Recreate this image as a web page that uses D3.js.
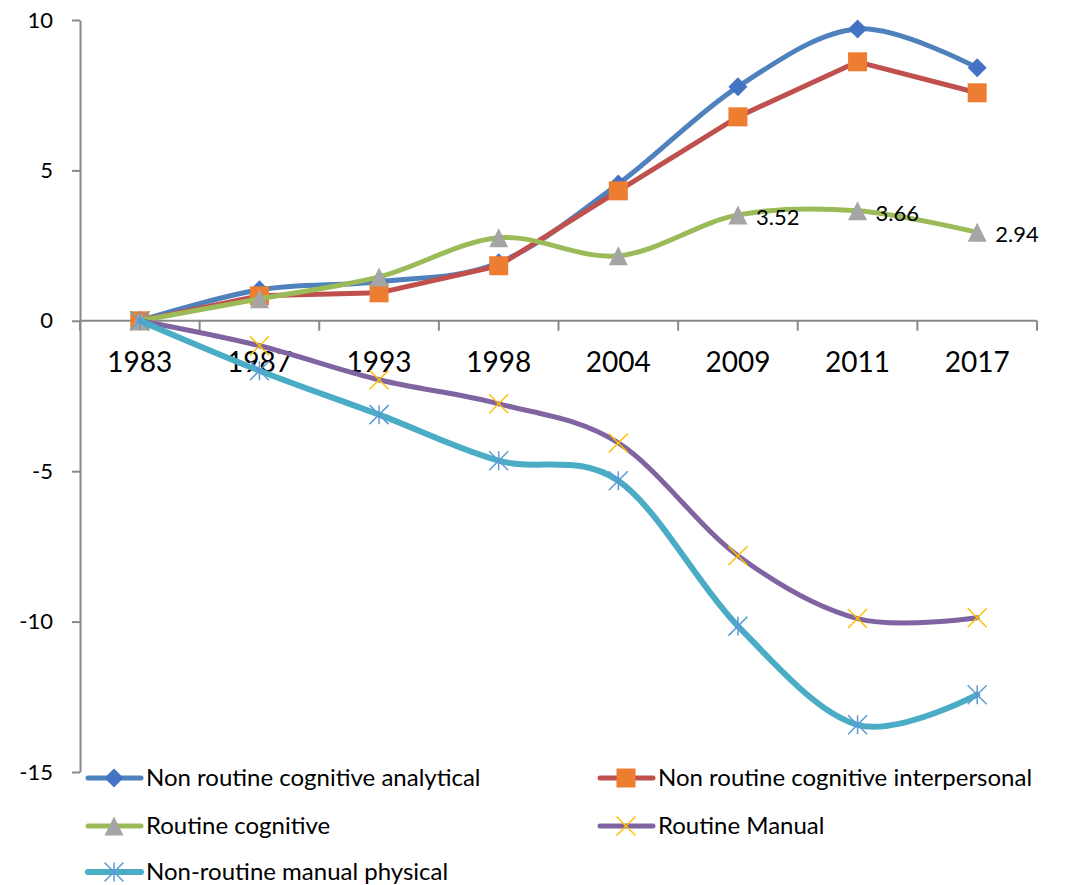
<!DOCTYPE html>
<html>
<head>
<meta charset="utf-8">
<script src="https://d3js.org/d3.v7.min.js"></script>
<style>
  body { margin: 0; background: #fff; }
  text { font-family: Lato, "Open Sans", sans-serif; fill: #000; }
</style>
</head>
<body>
<script>
// chart values
const years = ["1983", "1987", "1993", "1998", "2004", "2009", "2011", "2017"];
const seriesNames = ["Non routine cognitive analytical", "Non routine cognitive interpersonal",
  "Routine cognitive", "Routine Manual", "Non-routine manual physical"];
const analytical    = [0, 1.03, 1.30, 1.93, 4.55, 7.78, 9.70, 8.41];
const interpersonal = [0, 0.83, 0.93, 1.83, 4.32, 6.78, 8.61, 7.58];
const routineCog    = [0, 0.73, 1.46, 2.76, 2.16, 3.52, 3.66, 2.94];
const routineManual = [0, -0.83, -1.96, -2.76, -4.06, -7.81, -9.90, -9.87];
const manualPhys    = [0, -1.66, -3.12, -4.65, -5.32, -10.15, -13.43, -12.43];
const yTicks = [-15, -10, -5, 0, 5, 10];
const labelled = ["2009", "2011", "2017"]; // data labels on routine cognitive

const values = [analytical, interpersonal, routineCog, routineManual, manualPhys];
const lineColor = ["#4f81bd", "#c0504d", "#9bbb59", "#8064a2", "#4bacc6"];
const markColor = ["#4472c4", "#ed7d31", "#a5a5a5", "#ffc000", "#5b9bd5"];
const markType = ["diamond", "square", "triangle", "x", "star"];
const smooth = [true, false, true, true, true];
const lineW = [5, 5, 5, 5, 6];

const width = 1066, height = 885;
const svg = d3.select("body").append("svg")
  .attr("width", width).attr("height", height);

const x = d3.scaleBand().domain(years).range([80, 1037]).paddingInner(0).paddingOuter(0);
const cx = d => x(d) + x.bandwidth() / 2;
const y = d3.scaleLinear().domain([-15, 10]).range([772, 20]);

const axisColor = "#888";

// y axis
const yAxis = svg.append("g")
  .attr("transform", "translate(80,0)")
  .call(d3.axisLeft(y).tickValues(yTicks).tickSize(8).tickSizeOuter(0)
    .tickPadding(19).tickFormat(d => String(d)));
yAxis.select(".domain").attr("stroke", axisColor).attr("stroke-width", 2);
yAxis.selectAll(".tick line").attr("stroke", axisColor).attr("stroke-width", 2);
yAxis.selectAll(".tick text").attr("font-size", 22).attr("font-family", "Lato, sans-serif");

// x axis (Excel style, ticks between categories)
svg.append("line")
  .attr("x1", 80).attr("x2", 1037)
  .attr("y1", y(0)).attr("y2", y(0))
  .attr("stroke", axisColor).attr("stroke-width", 2);
const edges = years.map(d => x(d)).concat([x(years[years.length - 1]) + x.bandwidth()]);
svg.selectAll(".xtick").data(edges).enter().append("line")
  .attr("x1", d => d).attr("x2", d => d)
  .attr("y1", y(0)).attr("y2", y(0) + 10)
  .attr("stroke", axisColor).attr("stroke-width", 2);
svg.selectAll(".xlab").data(years).enter().append("text")
  .attr("x", d => cx(d))
  .attr("y", y(0) + 51)
  .attr("text-anchor", "middle")
  .attr("font-size", 28)
  .text(d => d);

function markerPath(type) {
  const r = 9.5;
  if (type === "diamond") return `M0,${-r}L${r},0L0,${r}L${-r},0Z`;
  if (type === "square") return `M${-r},${-r}H${r}V${r}H${-r}Z`;
  if (type === "triangle") return `M0,${-r}L${r},${r}H${-r}Z`;
  if (type === "x") return `M${-r},${-r}L${r},${r}M${r},${-r}L${-r},${r}`;
  return `M${-r},${-r}L${r},${r}M${r},${-r}L${-r},${r}M0,${-r}V${r}`;
}

function drawMarker(g, type, color, tx, ty) {
  const p = g.append("path")
    .attr("d", markerPath(type))
    .attr("transform", `translate(${tx},${ty})`);
  if (type === "x" || type === "star") {
    p.attr("fill", "none").attr("stroke", color).attr("stroke-width", 1.5);
  } else {
    p.attr("fill", color);
  }
}

for (let i = 0; i < values.length; i++) {
  const data = years.map((d, j) => ({ year: d, v: values[i][j] }));
  const g = svg.append("g");
  g.append("path")
    .datum(data)
    .attr("fill", "none")
    .attr("stroke", lineColor[i])
    .attr("stroke-width", lineW[i])
    .attr("stroke-linejoin", "round")
    .attr("stroke-linecap", "round")
    .attr("d", d3.line()
      .x(d => cx(d.year))
      .y(d => y(d.v))
      .curve(smooth[i] ? d3.curveCardinal.tension(0) : d3.curveLinear));
  data.forEach(d => drawMarker(g, markType[i], markColor[i], cx(d.year), y(d.v)));
}

// data labels
svg.selectAll(".dlab")
  .data(years.map((d, j) => ({ year: d, v: routineCog[j] })).filter(d => labelled.includes(d.year)))
  .enter().append("text")
  .attr("x", d => cx(d.year) + 18)
  .attr("y", d => y(d.v) + 10)
  .attr("font-size", 22)
  .text(d => d.v.toFixed(2));

// legend
const legendPos = [[86, 778], [598, 778], [86, 826], [598, 826], [86, 872]];
for (let i = 0; i < seriesNames.length; i++) {
  const [lx, ly] = legendPos[i];
  const g = svg.append("g");
  g.append("line")
    .attr("x1", lx + 2).attr("x2", lx + 55)
    .attr("y1", ly).attr("y2", ly)
    .attr("stroke", lineColor[i])
    .attr("stroke-width", lineW[i])
    .attr("stroke-linecap", "round");
  drawMarker(g, markType[i], markColor[i], lx + 28, ly);
  g.append("text")
    .attr("x", lx + 60)
    .attr("y", ly + 8)
    .attr("font-size", 24)
    .text(seriesNames[i]);
}
</script>
</body>
</html>
